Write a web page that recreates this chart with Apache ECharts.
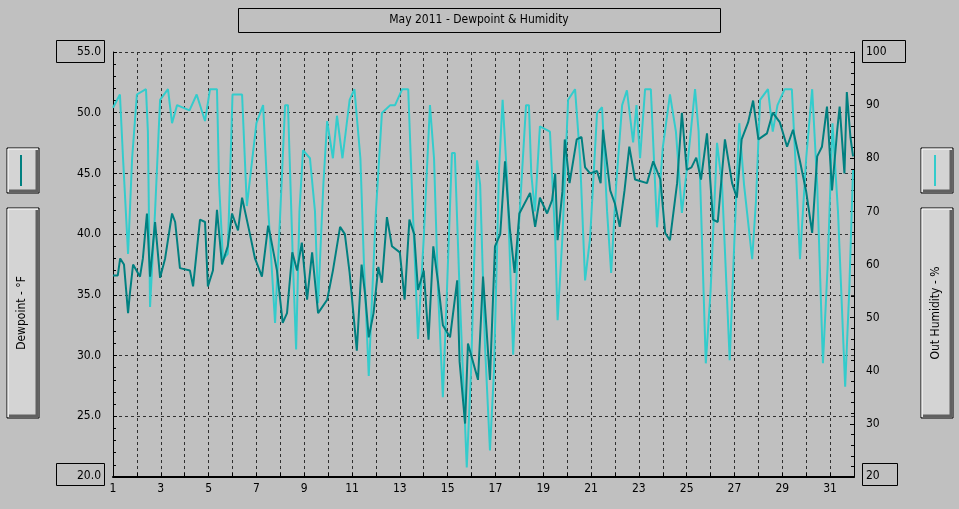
<!DOCTYPE html>
<html><head><meta charset="utf-8">
<script src="https://cdn.jsdelivr.net/npm/echarts@6/dist/echarts.min.js"></script>
<style>html,body{margin:0;padding:0;background:#c0c0c0}#c{width:959px;height:509px}</style>
</head><body><div id="c"></div>
<script>
const title = "May 2011 - Dewpoint & Humidity";
const xTicks = [1,3,5,7,9,11,13,15,17,19,21,23,25,27,29,31];
const humDays = [1.0,1.29,1.42,1.63,1.8,2.0,2.38,2.46,2.55,2.76,2.97,3.3,3.47,3.68,4.2,4.5,4.85,5.06,5.35,5.44,5.6,5.8,6.0,6.4,6.6,7.0,7.28,7.5,7.78,8.0,8.2,8.32,8.53,8.66,8.8,8.95,9.24,9.45,9.58,9.8,9.96,10.2,10.37,10.6,10.9,11.1,11.35,11.5,11.7,11.8,12.0,12.25,12.6,12.8,13.1,13.35,13.5,13.76,14.0,14.26,14.43,14.6,14.8,14.97,15.18,15.3,15.5,15.8,15.98,16.23,16.36,16.56,16.77,16.94,17.15,17.3,17.5,17.74,17.95,18.28,18.4,18.5,18.65,18.86,19.28,19.5,19.6,19.8,20.04,20.33,20.54,20.75,20.96,21.25,21.46,21.67,21.84,22.05,22.3,22.5,22.76,22.9,23.05,23.26,23.5,23.76,24.0,24.3,24.55,24.8,25.06,25.35,25.5,25.8,26.0,26.27,26.48,26.8,27.0,27.2,27.4,27.74,27.9,28.07,28.4,28.6,28.8,29.1,29.4,29.6,29.74,30.0,30.25,30.46,30.7,30.9,31.1,31.33,31.63,31.8,31.96];
const humVals = [89.5,92,80,62,80,92,93,85,52,70,91,93,86.6,90,89,92,87,93,93,75,61,62,92,92,71,86.6,90,70,49,70,90,90,60,44,70,81.5,80,70,52.7,75,87,80,88,80,91,93,80,60,39,50,70,88.5,90,90,93,93,75,46,65,90,80,55,35,55,81,81,55,21.8,40,79.6,75,45,25,40,78,91,75,43,65,90,90,77,70,86,85,65,49.5,65,91,93,80,57,65,88.5,89.6,70,58.4,75,90,92.8,83,90,80,93,93,67,82,92,85,69.7,80,93,85,41.4,55,82.9,75,42,65,86.6,75,61,72,91,93,85,90,93,93,75,61,80,93,75,41.4,60,86.6,70,37,55,77.8];
const dewDays = [1.0,1.2,1.3,1.46,1.63,1.7,1.84,2.13,2.25,2.42,2.55,2.76,2.97,3.18,3.47,3.6,3.8,4.22,4.35,4.64,4.85,4.97,5.18,5.35,5.56,5.8,5.98,6.23,6.4,6.73,6.94,7.23,7.49,7.57,7.86,8.1,8.28,8.5,8.7,8.9,9.12,9.33,9.58,9.96,10.2,10.5,10.7,10.9,11.2,11.4,11.55,11.7,11.9,12.1,12.25,12.46,12.67,13.0,13.2,13.4,13.6,13.76,14.0,14.2,14.4,14.6,14.8,15.1,15.4,15.5,15.73,15.85,16.06,16.27,16.48,16.7,16.77,16.98,17.2,17.4,17.6,17.8,18.0,18.45,18.66,18.86,19.16,19.37,19.5,19.6,19.8,19.9,20.1,20.4,20.6,20.75,20.96,21.25,21.4,21.5,21.8,22.0,22.2,22.4,22.6,22.84,23.34,23.6,23.9,24.1,24.3,24.6,24.8,25.0,25.2,25.4,25.6,25.85,26.1,26.3,26.6,26.9,27.1,27.3,27.57,27.78,28.0,28.36,28.6,28.9,29.2,29.45,29.74,30.0,30.25,30.46,30.66,30.87,31.08,31.3,31.4,31.6,31.7,31.85,31.96];
const dewVals = [36.6,36.6,38,37.5,33.5,35,37.5,36.5,38,41.7,36.5,41,36.4,38,41.7,41,37.2,37,35.7,41.2,41,35.7,37,42,37.5,39,41.7,40.3,43,40,38,36.5,40.7,40,37,32.7,33.5,38.5,37,39.3,34.6,38.5,33.5,34.6,37,40.6,40,36.8,30.4,37.5,35,31.5,33.5,37.3,36,41.4,39,38.5,34.6,41.2,40,35.4,37,31.3,39,36,32.5,31.5,36.2,29.5,24.4,31,29.5,28,36.5,30,28,39,40,46,40.5,36.8,41.7,43.4,40.6,43,41.7,42.8,45,39.5,43.5,47.8,44.2,47.8,48,45.5,45,45.2,44.2,48.6,43.6,42.5,40.6,43.6,47.2,44.5,44.2,46,44.5,40.1,39.5,44.2,50,45.3,45.5,46.3,44.5,48.3,41.2,41,47.8,44.2,43,47.8,49.2,51,47.8,48.3,50,49.2,47.2,48.6,46,43.5,40.1,46.4,47.2,50.5,43.6,48.6,50.5,45,51.7,48,46.4];

const dewData = dewDays.map((d,i)=>[d,dewVals[i]]);
const humData = humDays.map((d,i)=>[d,humVals[i]]);
const F = '"DejaVu Sans Condensed","DejaVu Sans",sans-serif';
function box(x,y,w,h){
  return [
    {type:'rect',shape:{x:x,y:y,width:w,height:h},style:{fill:'#c0c0c0',stroke:'#000',lineWidth:1}},
  ];
}
function bevel(x,y,w,h){
  return [
    {type:'rect',shape:{x:x,y:y,width:w,height:h},style:{fill:'#d4d4d4',stroke:'#000',lineWidth:1}},
    {type:'polyline',shape:{points:[[x+w-2,y+2],[x+w-2,y+h-2],[x+2,y+h-2]]},style:{stroke:'#606060',lineWidth:3,fill:null}},
    {type:'polyline',shape:{points:[[x+1,y+h-1],[x+1,y+1],[x+w-1,y+1]]},style:{stroke:'#ffffff',lineWidth:1,fill:null}}
  ];
}
const g = [].concat(
  box(238.5,8.5,482,24),
  [{type:'text',x:479,y:20,style:{text:title,font:'12px '+F,fill:'#000',align:'center',verticalAlign:'middle'}}],
  box(56.5,40.5,48,22),[{type:'text',x:101,y:52,style:{text:'55.0',font:'12px '+F,align:'right',verticalAlign:'middle'}}],
  box(56.5,463.5,48,22),[{type:'text',x:101,y:476,style:{text:'20.0',font:'12px '+F,align:'right',verticalAlign:'middle'}}],
  box(862.5,40.5,43,22),[{type:'text',x:866,y:52,style:{text:'100',font:'12px '+F,align:'left',verticalAlign:'middle'}}],
  box(862.5,463.5,35,22),[{type:'text',x:866,y:476,style:{text:'20',font:'12px '+F,align:'left',verticalAlign:'middle'}}],
  bevel(7,148,32,45),
  [{type:'line',shape:{x1:21,y1:155,x2:21,y2:186},style:{stroke:'#008080',lineWidth:2}}],
  bevel(7,208,32,210),
  [{type:'text',x:22,y:313,rotation:Math.PI/2,style:{text:'Dewpoint - °F',font:'12px '+F,align:'center',verticalAlign:'middle'}}],
  bevel(921,148,32,45),
  [{type:'line',shape:{x1:935,y1:155,x2:935,y2:186},style:{stroke:'#33cccc',lineWidth:2}}],
  bevel(921,208,32,210),
  [{type:'text',x:936,y:313,rotation:Math.PI/2,style:{text:'Out Humidity - %',font:'12px '+F,align:'center',verticalAlign:'middle'}}]
);
const chart = echarts.init(document.getElementById('c'));
chart.setOption({
  backgroundColor:'#c0c0c0',
  animation:false,
  grid:{left:113,right:105,top:52,bottom:32,show:false},
  xAxis:{type:'value',min:1,max:32,interval:1,
    axisLine:{show:true,lineStyle:{color:'#000',width:2}},
    axisTick:{show:true,inside:true,length:4,lineStyle:{color:'#000'}},
    axisLabel:{formatter:v=>xTicks.indexOf(v)>=0?String(v):'',color:'#000',fontFamily:F,fontSize:12,margin:6},
    splitLine:{show:true,lineStyle:{color:'#303030',type:[3,3],width:1}}},
  yAxis:[
    {type:'value',min:20,max:55,interval:5,position:'left',
     axisLine:{show:true,lineStyle:{color:'#000',width:1}},
     axisTick:{show:true,inside:true,length:4,lineStyle:{color:'#000'}},
     minorTick:{show:true,splitNumber:5,length:3,lineStyle:{color:'#000'}},
     axisLabel:{showMinLabel:false,showMaxLabel:false,formatter:v=>v.toFixed(1),color:'#000',fontFamily:F,fontSize:12,margin:12},
     splitLine:{show:true,lineStyle:{color:'#303030',type:[3,3],width:1}}},
    {type:'value',min:20,max:100,interval:10,position:'right',
     axisLine:{show:true,lineStyle:{color:'#000',width:1}},
     axisTick:{show:true,inside:true,length:4,lineStyle:{color:'#000'}},
     minorTick:{show:true,splitNumber:5,length:3,lineStyle:{color:'#000'}},
     axisLabel:{showMinLabel:false,showMaxLabel:false,color:'#000',fontFamily:F,fontSize:12,margin:12},
     splitLine:{show:false}}
  ],
  series:[
    {type:'line',yAxisIndex:1,data:humData,showSymbol:false,lineStyle:{color:'#33cccc',width:2},z:2},
    {type:'line',yAxisIndex:0,data:dewData,showSymbol:false,lineStyle:{color:'#008080',width:2},z:3}
  ],
  graphic:g
});
</script></body></html>
